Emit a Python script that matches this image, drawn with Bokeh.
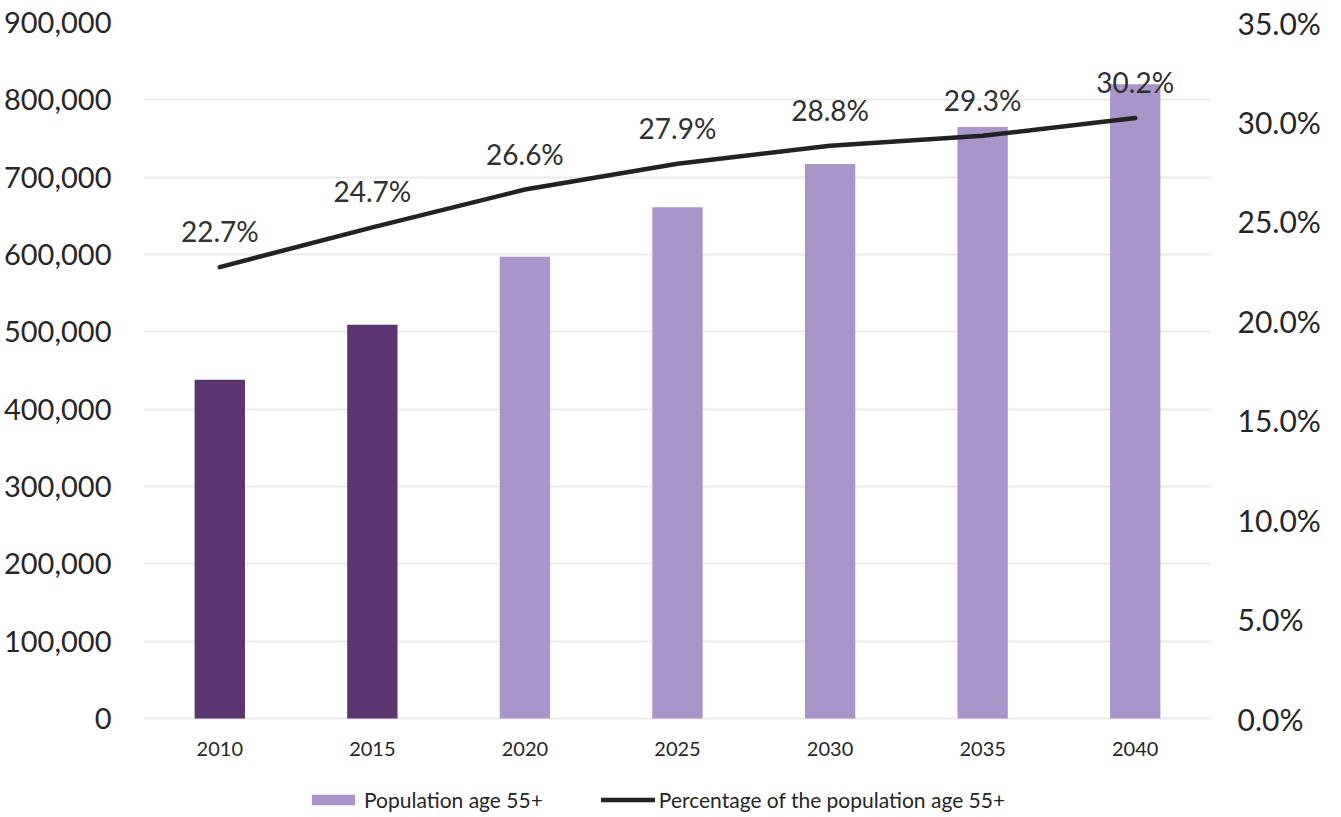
from bokeh.plotting import figure
from bokeh.models import (ColumnDataSource, LinearAxis, Range1d, FactorRange,
                          NumeralTickFormatter, PrintfTickFormatter, FixedTicker,
                          Legend, LegendItem)
from bokeh.core.properties import value
from bokeh.embed import file_html
from bokeh.resources import INLINE

years = ["2010", "2015", "2020", "2025", "2030", "2035", "2040"]
population_55 = [438000, 509000, 597000, 661000, 717000, 765000, 820000]
pct_55 = [22.7, 24.7, 26.6, 27.9, 28.8, 29.3, 30.2]
bar_colors = ["#5b356f", "#5b356f", "#a995c9", "#a995c9", "#a995c9", "#a995c9", "#a995c9"]
pct_labels = ["%.1f%%" % v for v in pct_55]
pop_ticks = [0, 100000, 200000, 300000, 400000, 500000, 600000, 700000, 800000, 900000]
pct_ticks = [0, 5, 10, 15, 20, 25, 30, 35]

FONT = "Lato"
TXT = "#262626"

# plot area: 696 px for the data, plus 94 px below the zero line for year labels and legend
DATA_H = 696
EXTRA_H = 94
pop_max = 900000
pct_max = 35

src = ColumnDataSource(dict(year=years, pop=population_55, pct=pct_55,
                            color=bar_colors, lab=pct_labels, base=[0] * len(years)))

p = figure(frame_width=1068, frame_height=DATA_H + EXTRA_H,
           x_range=FactorRange(*years, range_padding=0.0),
           y_range=Range1d(-pop_max * EXTRA_H / DATA_H, pop_max),
           output_backend="svg", toolbar_location=None,
           min_border_left=141, min_border_right=114, min_border_top=22, min_border_bottom=0)
p.outline_line_color = None
p.background_fill_color = "white"
p.border_fill_color = "white"

p.extra_y_ranges = {"pct": Range1d(-pct_max * EXTRA_H / DATA_H, pct_max)}

bars = p.vbar(x="year", top="pop", width=0.33, fill_color="color", line_color=None, source=src)
line = p.line(x="year", y="pct", y_range_name="pct", line_color="#222222", line_width=4.5,
              line_cap="round", source=src)
p.text(x="year", y="pct", text="lab", y_range_name="pct", source=src,
       text_align="center", text_baseline="middle", y_offset=-36,
       text_font=value(FONT), text_font_size="28px", text_color="#303030")
# category labels under the zero line
p.text(x="year", y="base", text="year", source=src,
       text_align="center", text_baseline="middle", y_offset=30,
       text_font=value(FONT), text_font_size="20px", text_color=TXT)

# left axis
ya = p.yaxis[0]
ya.ticker = FixedTicker(ticks=pop_ticks)
ya.formatter = NumeralTickFormatter(format="0,0")
ya.major_label_text_font = FONT
ya.major_label_text_font_size = "29px"
ya.major_label_text_color = TXT
ya.axis_line_color = None
ya.major_tick_line_color = None
ya.minor_tick_line_color = None
ya.major_label_standoff = 26

# right axis
ra = LinearAxis(y_range_name="pct", ticker=FixedTicker(ticks=pct_ticks),
                formatter=PrintfTickFormatter(format="%.1f%%"))
ra.major_label_text_font = FONT
ra.major_label_text_font_size = "30px"
ra.major_label_text_color = TXT
ra.axis_line_color = None
ra.major_tick_line_color = None
ra.minor_tick_line_color = None
ra.major_label_standoff = 20
p.add_layout(ra, "right")

p.xaxis.visible = False

p.xgrid.grid_line_color = None
p.ygrid.grid_line_color = "#ebebeb"
p.ygrid.grid_line_width = 2
p.ygrid.ticker = FixedTicker(ticks=pop_ticks)

legend_bar = p.vbar(x=[years[0]], top=[0], width=0.0, fill_color="#a995c9", line_color=None, visible=False)
legend = Legend(items=[LegendItem(label="Population age 55+", renderers=[legend_bar]),
                       LegendItem(label="Percentage of the population age 55+", renderers=[line])],
                orientation="horizontal", location=(163, 0),
                label_text_font=FONT, label_text_font_size="21px", label_text_color=TXT,
                glyph_width=54, glyph_height=13, spacing=58, label_standoff=4,
                border_line_color=None, background_fill_alpha=0, padding=0, margin=0)
p.add_layout(legend, "center")

open("out.html", "w").write(file_html(p, INLINE))
